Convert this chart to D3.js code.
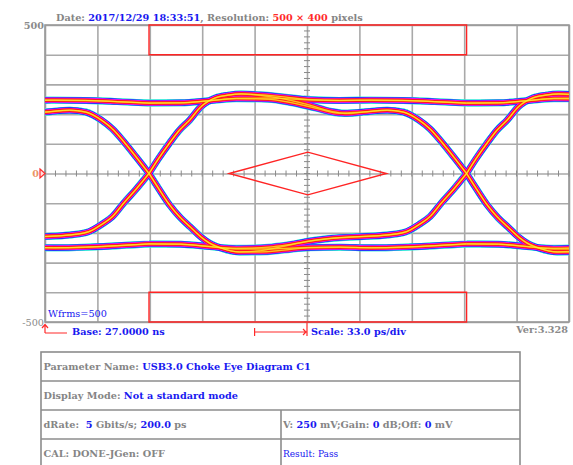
<!DOCTYPE html>
<html>
<head>
<meta charset="utf-8">
<script src="https://cdn.jsdelivr.net/npm/d3@7"></script>
<style>
  body { margin: 0; background: #fff; }
  svg { display: block; }
  text { font-family: "DejaVu Serif", serif; white-space: pre; }
</style>
</head>
<body>
<script>

// time in ps (10 div x 33 ps), voltage in mV
var timeDomain = [0, 330];
var voltDomain = [-500, 500];
var gridTimes = [0, 33, 66, 99, 132, 165, 198, 231, 264, 297, 330];
var gridVolts = [-500, -400, -300, -200, -100, 0, 100, 200, 300, 400, 500];
var voltLabels = [[500, "500"], [0, "0"], [-500, "-500"]];

// start of each bit (crossing times) that shows in the window
var bitStarts = [-134.5, 65.5, 265.5];

// bit shapes: [ps after crossing, mV]
// H = high bit, L = low bit, T = transition at start, N = no transition, last letter = next bit
var shapeHTH = [[0,0],[6,50],[13,103],[19,145],[25.6,180],[32.7,225],[42,255],[50,264],[58,268],[70,265],[85,258],[100,249],[120,246],[140,247],[160,246],[180,242],[200,237]];
var shapeHTL = [[0,0],[6,50],[13,103],[19,145],[25.6,180],[32.7,225],[42,255],[50,264],[58,268],[70,263],[85,251],[100,232],[115,209],[125,202],[135,207],[150,213],[160,207],[170,180],[177,150],[184,108],[192,55],[200,0]];
var shapeHNH = [[0,237],[20,238],[38,245],[55,253],[75,254],[100,248],[120,246],[140,247],[160,246],[180,242],[200,237]];
var shapeHNL = [[0,237],[20,238],[38,245],[55,252],[75,250],[90,238],[105,220],[120,203],[135,207],[150,213],[160,207],[170,180],[177,150],[184,108],[192,55],[200,0]];
var shapeLTL = [[0,0],[6,-50],[13,-106],[20,-150],[26,-180],[33,-215],[38,-234],[46,-252],[57,-264],[70,-264],[85,-258],[100,-250],[120,-248],[140,-250],[160,-248],[180,-243],[200,-237]];
var shapeLTH = [[0,0],[6,-50],[13,-106],[20,-150],[26,-180],[33,-215],[38,-234],[46,-252],[57,-264],[70,-260],[85,-245],[100,-228],[115,-218],[130,-213],[150,-207],[162,-196],[170,-172],[177,-145],[184,-100],[192,-52],[200,0]];
var shapeLNL = [[0,-237],[20,-238],[38,-246],[55,-254],[75,-254],[100,-249],[120,-248],[140,-250],[160,-248],[180,-243],[200,-237]];
var shapeLNH = [[0,-237],[20,-238],[38,-246],[55,-252],[75,-248],[90,-238],[105,-225],[120,-216],[135,-212],[150,-207],[162,-196],[170,-172],[177,-145],[184,-100],[192,-52],[200,0]];
var shapes = [shapeHTH, shapeHTL, shapeHNH, shapeHNL, shapeLTL, shapeLTH, shapeLNL, shapeLNH];

// mask regions
var maskTop = [[65.5, 500], [265.5, 500], [265.5, 400], [65.5, 400]];
var maskBottom = [[65.5, -400], [265.5, -400], [265.5, -500], [65.5, -500]];
var maskCenter = [[116, 0], [165.5, 72], [215, 0], [165.5, -72]];

// persistence colours, outer to inner
var persistence = [["#30e8d8", 7.0], ["#2a2aff", 5.9], ["#ee12ee", 4.7], ["#ff1a1a", 3.3], ["#ff8c10", 1.5], ["#ffff30", 0.5]];

var titleParts = [["Date: ", "g"], ["2017/12/29 18:33:51", "b"], [", Resolution: ", "g"], ["500 \u00d7 400", "r"], [" pixels", "g"]];
var baseText = "Base: 27.0000 ns";
var scaleText = "Scale: 33.0 ps/div";
var verText = "Ver:3.328";
var wfrmsText = "Wfrms=500";

var tableRows = [
    [[["Parameter Name: ", "g"], ["USB3.0 Choke Eye Diagram C1", "b"]]],
    [[["Display Mode: ", "g"], ["Not a standard mode", "b"]]],
    [[["dRate:  ", "g"], ["5", "b"], [" Gbits/s; ", "g"], ["200.0", "b"], [" ps", "g"]],
     [["V: ", "g"], ["250", "b"], [" mV;Gain: ", "g"], ["0", "b"], [" dB;Off: ", "g"], ["0", "b"], [" mV", "g"]]],
    [[["CAL: DONE-JGen: OFF", "g"]], [["Result: Pass", "n"]]]
];

var colorOf = { g: "#858585", b: "#1818f0", r: "#ff2a2a", n: "#1818f0" };

// ---- layout ----
var width = 573, height = 465;
var plot = { left: 45, right: 569, top: 25, bottom: 322 };
var table = { left: 41, right: 520, top: 352, rowH: 29, split: 281 };

var svg = d3.select("body").append("svg")
    .attr("width", width)
    .attr("height", height);

var x = d3.scaleLinear().domain(timeDomain).range([plot.left, plot.right]);
var y = d3.scaleLinear().domain(voltDomain).range([plot.bottom, plot.top]);

svg.append("defs").append("clipPath")
    .attr("id", "plotClip")
    .append("rect")
    .attr("x", plot.left).attr("y", plot.top)
    .attr("width", plot.right - plot.left)
    .attr("height", plot.bottom - plot.top);

// grid
var grid = svg.append("g").attr("class", "grid");
grid.append("g")
    .attr("transform", "translate(0," + plot.bottom + ")")
    .call(d3.axisBottom(x).tickValues(gridTimes).tickSize(-(plot.bottom - plot.top)).tickFormat(""));
grid.append("g")
    .attr("transform", "translate(" + plot.left + ",0)")
    .call(d3.axisLeft(y).tickValues(gridVolts).tickSize(-(plot.right - plot.left)).tickFormat(""));
grid.selectAll(".domain").remove();
grid.selectAll("line").attr("stroke", "#a9a9a9").attr("stroke-width", 1.6);

grid.append("rect")
    .attr("x", plot.left).attr("y", plot.top)
    .attr("width", plot.right - plot.left)
    .attr("height", plot.bottom - plot.top)
    .attr("fill", "none")
    .attr("stroke", "#999")
    .attr("stroke-width", 1.6);

// minor ticks along the centre lines
var centerT = 165, centerV = 0;
var minorT = d3.range(timeDomain[0], timeDomain[1] + 0.1, 6.6);
var minorV = d3.range(voltDomain[0], voltDomain[1] + 0.1, 20);
grid.selectAll(".tickT").data(minorT).enter().append("line")
    .attr("x1", function (d) { return x(d); })
    .attr("x2", function (d) { return x(d); })
    .attr("y1", y(centerV) - 3).attr("y2", y(centerV) + 3)
    .attr("stroke", "#8a8a8a").attr("stroke-width", 1);
grid.selectAll(".tickV").data(minorV).enter().append("line")
    .attr("x1", x(centerT) - 3).attr("x2", x(centerT) + 3)
    .attr("y1", function (d) { return y(d); })
    .attr("y2", function (d) { return y(d); })
    .attr("stroke", "#8a8a8a").attr("stroke-width", 1);

// eye traces
var line = d3.line()
    .x(function (d) { return x(d[0]); })
    .y(function (d) { return y(d[1]); })
    .curve(d3.curveMonotoneX);

var traces = [];
bitStarts.forEach(function (t0) {
    shapes.forEach(function (s) {
        traces.push(s.map(function (p) { return [t0 + p[0], p[1]]; }));
    });
});

var eye = svg.append("g").attr("clip-path", "url(#plotClip)");
persistence.forEach(function (p) {
    eye.append("g").selectAll("path")
        .data(traces)
        .enter().append("path")
        .attr("d", line)
        .attr("fill", "none")
        .attr("stroke", p[0])
        .attr("stroke-width", p[1])
        .attr("stroke-linejoin", "round");
});

// masks
var polygon = d3.line()
    .x(function (d) { return x(d[0]); })
    .y(function (d) { return y(d[1]); })
    .curve(d3.curveLinearClosed);
svg.selectAll(".mask")
    .data([maskTop, maskBottom, maskCenter])
    .enter().append("path")
    .attr("d", polygon)
    .attr("fill", "none")
    .attr("stroke", "#ff2424")
    .attr("stroke-width", 1.4);

// y labels
voltLabels.forEach(function (l) {
    svg.append("text")
        .attr("x", l[0] === 0 ? 39 : 44)
        .attr("y", y(l[0]) + 3.5)
        .attr("text-anchor", "end")
        .attr("font-size", "9.7px")
        .attr("font-weight", l[0] === -500 ? "normal" : "bold")
        .attr("fill", l[0] === 0 ? "#eb9466" : "#8a8a8a")
        .text(l[1]);
});
svg.append("path")
    .attr("d", "M" + 40 + "," + (y(0) - 4.5) + "L" + 45 + "," + y(0) + "L" + 40 + "," + (y(0) + 4.5) + "Z")
    .attr("fill", "#ffe0e0")
    .attr("stroke", "#ff2a2a")
    .attr("stroke-width", 1.2);

// title
var title = svg.append("text")
    .attr("x", 56).attr("y", 21)
    .attr("font-size", "9.7px")
    .attr("font-weight", "bold");
title.selectAll("tspan").data(titleParts).enter().append("tspan")
    .attr("fill", function (d) { return colorOf[d[1]]; })
    .text(function (d) { return d[0]; });

svg.append("text")
    .attr("x", 48).attr("y", 317)
    .attr("font-size", "9.7px")
    .attr("fill", "#1818f0")
    .text(wfrmsText);

// base / scale markers under the plot
var red = "#ff2a2a";
var ann = svg.append("g").attr("stroke", red).attr("stroke-width", 1.2).attr("fill", "none");
ann.append("path").attr("d", "M" + x(0) + ",333V325M" + (x(0) - 3) + ",328L" + x(0) + ",324.5L" + (x(0) + 3) + ",328M" + x(0) + ",333H" + (x(0) + 22));
ann.append("path").attr("d", "M" + x(132) + ",328V336M" + x(132) + ",332H" + (x(165) - 1) + "M" + (x(165) - 4) + ",329L" + (x(165) - 1) + ",332L" + (x(165) - 4) + ",335M" + x(165) + ",323V336");

svg.append("text")
    .attr("x", 72).attr("y", 335)
    .attr("font-size", "9.7px").attr("font-weight", "bold")
    .attr("fill", "#1818f0")
    .text(baseText);
svg.append("text")
    .attr("x", 311).attr("y", 335)
    .attr("font-size", "9.7px").attr("font-weight", "bold")
    .attr("fill", "#1818f0")
    .text(scaleText);
svg.append("text")
    .attr("x", 568).attr("y", 333)
    .attr("text-anchor", "end")
    .attr("font-size", "9.7px").attr("font-weight", "bold")
    .attr("fill", "#8a8a8a")
    .text(verText);

// parameter table
var tg = svg.append("g");
tg.append("rect")
    .attr("x", table.left).attr("y", table.top)
    .attr("width", table.right - table.left)
    .attr("height", table.rowH * tableRows.length + 10)
    .attr("fill", "none").attr("stroke", "#8c8c8c").attr("stroke-width", 1.6);

tableRows.forEach(function (row, i) {
    var top = table.top + i * table.rowH;
    if (i > 0) {
        tg.append("line")
            .attr("x1", table.left).attr("x2", table.right)
            .attr("y1", top).attr("y2", top)
            .attr("stroke", "#8c8c8c").attr("stroke-width", 1.6);
    }
    if (row.length > 1) {
        tg.append("line")
            .attr("x1", table.split).attr("x2", table.split)
            .attr("y1", top).attr("y2", top + table.rowH)
            .attr("stroke", "#8c8c8c").attr("stroke-width", 1.6);
    }
    row.forEach(function (cell, j) {
        var plain = cell[0][1] === "n";
        var t = tg.append("text")
            .attr("x", j === 0 ? table.left + 2.5 : table.split + 2)
            .attr("y", top + 18)
            .attr("font-size", plain ? "9px" : "9.7px")
            .attr("font-weight", plain ? "normal" : "bold");
        t.selectAll("tspan").data(cell).enter().append("tspan")
            .attr("fill", function (d) { return colorOf[d[1]]; })
            .text(function (d) { return d[0]; });
    });
});

</script>
</body>
</html>
